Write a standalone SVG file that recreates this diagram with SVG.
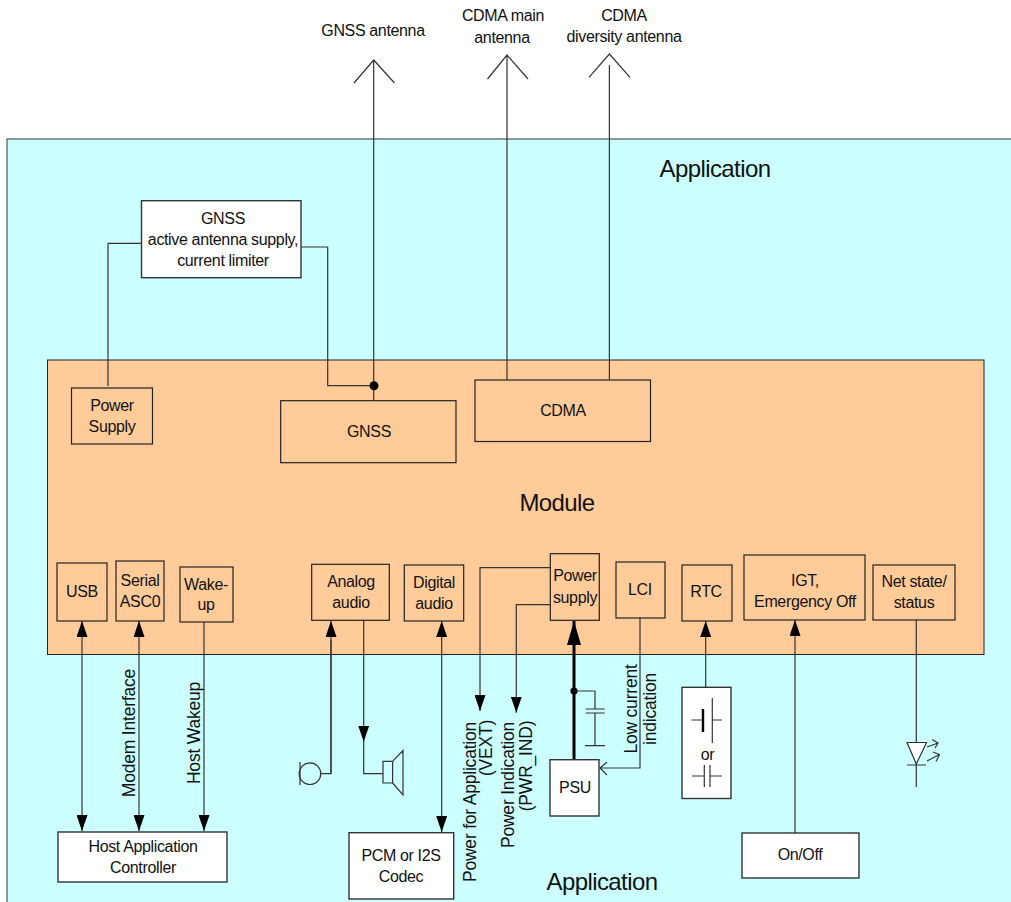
<svg xmlns="http://www.w3.org/2000/svg" width="1011" height="902" viewBox="0 0 1011 902">
<style>
text{font-family:"Liberation Sans",Arial,sans-serif;font-size:16px;fill:#111;text-anchor:middle;letter-spacing:-.35px}
.big{font-size:24px;letter-spacing:-.6px}
.r{font-size:17.5px;letter-spacing:-.2px}
.b{fill:#ffcc99;stroke:#222;stroke-width:1.2}
.w{fill:#fff;stroke:#333;stroke-width:1.4}
.l{fill:none;stroke:#333;stroke-width:1.2}
.a{fill:none;stroke:#333;stroke-width:1.2;marker-end:url(#ah)}
.d{fill:none;stroke:#333;stroke-width:1.2;marker-end:url(#ah);marker-start:url(#ah)}
</style>
<defs>
<marker id="ah" markerUnits="userSpaceOnUse" markerWidth="16" markerHeight="11" refX="16" refY="5.5" orient="auto-start-reverse" viewBox="0 0 16 11"><path d="M0 0L16 5.5L0 11Z" fill="#000"/></marker>
<marker id="ahb" markerUnits="userSpaceOnUse" markerWidth="24" markerHeight="14" refX="24" refY="7" orient="auto" viewBox="0 0 24 14"><path d="M0 0L24 7L0 14Z" fill="#000"/></marker>
</defs>
<g id="application"><rect x="7" y="139" width="1005" height="764" fill="#ccffff" stroke="#333" stroke-width="1"/><text class="big" x="715" y="177">Application</text><text class="big" x="602" y="890">Application</text></g>
<g id="module"><rect x="47.5" y="360" width="936.5" height="294.5" fill="#ffcc99" stroke="#222" stroke-width="1"/><text class="big" x="557" y="511">Module</text></g>
<g id="connectors">
<path class="l" d="M373.7 60V401M354 83L373.7 60L394.5 83"/>
<path class="l" d="M507 55V380M487.5 79L507 55L528 79"/>
<path class="l" d="M609.4 65V380M589 77.3L609.4 54L630 77.3"/>
<path class="l" d="M141 243.3H108V386"/>
<path class="l" d="M301 247H327.7V385.7H374"/>
<circle cx="374" cy="385.7" r="4.5" fill="#000"/>
<path class="d" d="M82 621V831"/>
<path class="d" d="M139 621V831"/>
<path class="a" d="M204 622V831"/>
<path class="l" d="M331 640V773.7H321M300 762V785"/>
<path class="a" d="M331 773V621"/>
<circle cx="310" cy="773.7" r="10.8" fill="none" stroke="#333" stroke-width="1.2"/>
<path class="a" d="M363.7 620V741.7"/>
<path class="l" d="M363.7 741V773.7H383"/>
<path class="l" d="M383 761.3H392.6V783H383ZM392.6 761.3L403 750.5V795L392.6 783"/>
<path class="d" d="M441.7 621V832"/>
<path class="a" d="M550 567.7H480V711"/>
<path class="a" d="M550 604.7H516.3V712.7"/>
<path d="M574 760V621" fill="none" stroke="#000" stroke-width="3" marker-end="url(#ahb)"/>
<circle cx="574" cy="691" r="3.6" fill="#000"/>
<path class="l" d="M574 691H595V709M595 713V745.7M585.7 709H604.7M585.7 713H604.7M585 745.7H605"/>
<path class="l" d="M640 618V768H600M607 762L600 768L607 775"/>
<path class="a" d="M705.7 687V621"/>
<path class="a" d="M795 833V620"/>
<path class="l" d="M916.3 620V787"/>
</g>
<g id="n-ps"><rect class="b" x="71.5" y="388" width="81" height="56"/><text x="112" y="411">Power</text><text x="112" y="432">Supply</text></g>
<g id="n-gnss"><rect class="b" x="280.7" y="400.7" width="175.3" height="62"/><text x="369" y="437">GNSS</text></g>
<g id="n-cdma"><rect class="b" x="475" y="380" width="175.5" height="61.5"/><text x="563" y="416">CDMA</text></g>
<g id="n-limiter"><rect class="w" x="141.5" y="200.7" width="159.5" height="77"/><text x="223" y="224">GNSS</text><text x="223" y="245">active antenna supply,</text><text x="223" y="266">current limiter</text></g>
<g id="n-usb"><rect class="b" x="57" y="563" width="50" height="58"/><text x="82" y="597">USB</text></g>
<g id="n-serial"><rect class="b" x="116" y="561" width="48" height="60"/><text x="140" y="586">Serial</text><text x="140" y="607">ASC0</text></g>
<g id="n-wake"><rect class="b" x="180" y="567" width="53" height="55"/><text x="206" y="590">Wake-</text><text x="206" y="610">up</text></g>
<g id="n-analog"><rect class="b" x="311.7" y="564.3" width="77.6" height="56"/><text x="351" y="587">Analog</text><text x="351" y="608">audio</text></g>
<g id="n-digital"><rect class="b" x="404.3" y="565" width="59.4" height="56"/><text x="434" y="588">Digital</text><text x="434" y="609">audio</text></g>
<g id="n-supply"><rect class="b" x="550.3" y="553.7" width="49" height="66.6"/><text x="575" y="581">Power</text><text x="575" y="603">supply</text></g>
<g id="n-lci"><rect class="b" x="616" y="562" width="49" height="56"/><text x="640" y="595">LCI</text></g>
<g id="n-rtc"><rect class="b" x="682" y="565" width="50" height="56"/><text x="706" y="597">RTC</text></g>
<g id="n-igt"><rect class="b" x="744" y="555" width="121" height="65"/><text x="805" y="586">IGT,</text><text x="805" y="607">Emergency Off</text></g>
<g id="n-net"><rect class="b" x="873" y="565" width="82" height="55"/><text x="914" y="587">Net state/</text><text x="914" y="608">status</text></g>
<g id="n-host"><rect class="w" x="58" y="832" width="169" height="50"/><text x="143" y="852">Host Application</text><text x="143" y="873">Controller</text></g>
<g id="n-codec"><rect class="w" x="349" y="832.7" width="104.7" height="66.3"/><text x="401" y="861">PCM or I2S</text><text x="401" y="882">Codec</text></g>
<g id="n-psu"><rect class="w" x="550" y="759.7" width="49" height="56.3"/><text x="575" y="793">PSU</text></g>
<g id="n-rtcsrc"><rect class="w" x="682" y="687.3" width="49" height="111.2"/><path class="l" d="M691.5 720H703M712.3 698V743M712.3 720H722"/><path d="M703 709V732" stroke="#000" stroke-width="2.4" fill="none"/><text x="707.5" y="760">or</text><path class="l" d="M692 776H704.3M704.3 765V787M710 765V787M710 776H722"/></g>
<g id="n-onoff"><rect class="w" x="742" y="833" width="117" height="45"/><text x="800" y="860">On/Off</text></g>
<g id="led"><path d="M907 742.5H926.5L916.3 764Z" fill="#fff" stroke="#333" stroke-width="1.2"/><path class="l" d="M907 765H926M927 747L938 743M932 739.5L938 743L935 748M927 761L939.5 754.5M933 752L939.5 754.5L936 761.5"/></g>
<g id="labels">
<text x="373" y="36">GNSS antenna</text>
<text x="503" y="21">CDMA main</text><text x="502" y="43">antenna</text>
<text x="624" y="21">CDMA</text><text x="624" y="42">diversity antenna</text>
<text class="r" transform="translate(135 733) rotate(-90)">Modem Interface</text>
<text class="r" transform="translate(200 733) rotate(-90)">Host Wakeup</text>
<text class="r" transform="translate(476 802) rotate(-90)">Power for Application</text>
<text class="r" transform="translate(492 748) rotate(-90)">(VEXT)</text>
<text class="r" transform="translate(514 785) rotate(-90)">Power Indication</text>
<text class="r" transform="translate(532 766) rotate(-90)">(PWR_IND)</text>
<text class="r" transform="translate(637 709) rotate(-90)">Low current</text>
<text class="r" transform="translate(656 709) rotate(-90)">indication</text>
</g>
</svg>
